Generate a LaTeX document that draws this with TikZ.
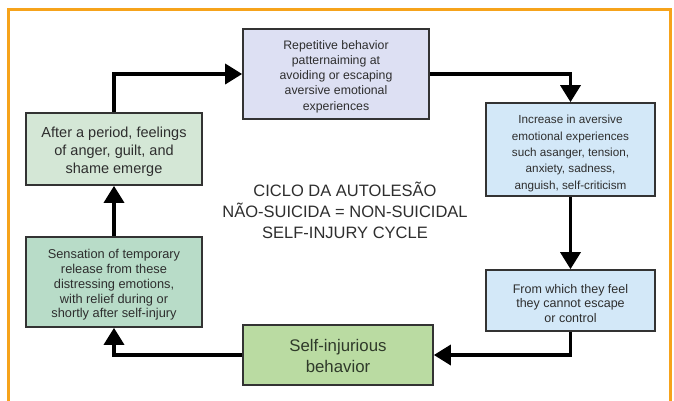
\documentclass[tikz,border=0pt]{standalone}
\usepackage{fontspec}
\setmainfont{Liberation Sans}
\usetikzlibrary{arrows.meta}
\definecolor{frameorange}{HTML}{F6A31B}
\definecolor{boxline}{HTML}{333333}
\definecolor{textgray}{HTML}{2E2E2E}
\definecolor{lavender}{HTML}{DDE0F3}
\definecolor{paleblue}{HTML}{D3E8F8}
\definecolor{palemint}{HTML}{D4E7D6}
\definecolor{mint}{HTML}{B8DCC8}
\definecolor{olivegreen}{HTML}{BADBA2}
\definecolor{darkgreentext}{HTML}{2F3A2A}
\tikzset{
  box/.style={draw=boxline, line width=1.7pt, inner sep=0pt},
  boxtext/.style={align=center, inner sep=0pt, text=textgray},
  flow/.style={line width=3.5pt, draw=black, -{Triangle[length=17pt,width=20pt]}},
  frame/.style={draw=frameorange, line width=3pt},
  title/.style={align=center, text=textgray, font=\fontsize{16.5}{21}\selectfont}
}
\begin{document}
\begin{tikzpicture}[x=1pt,y=-1pt]
\useasboundingbox (0,0) rectangle (674,400);
\fill[white] (0,0) rectangle (674,400);
\draw[frame] (8,402) -- (8,9) -- (670,9) -- (670,402);

% boxes
\node[box, fill=lavender, minimum width=186pt, minimum height=90pt] (top) at (336,74) {};
\node[box, fill=paleblue, minimum width=169pt, minimum height=93pt] (rt) at (570.5,149.5) {};
\node[box, fill=paleblue, minimum width=169pt, minimum height=61pt] (rb) at (570.5,300.5) {};
\node[box, fill=olivegreen, minimum width=190pt, minimum height=60pt] (bc) at (338,355) {};
\node[box, fill=mint, minimum width=176pt, minimum height=90pt] (lb) at (114,282) {};
\node[box, fill=palemint, minimum width=176pt, minimum height=72pt] (lt) at (114,149) {};

% texts
\node[boxtext, font=\fontsize{12.3}{15.2}\selectfont] (topt) at ([yshift=-2.5pt]top.center)
  {Repetitive behavior\\patternaiming at\\avoiding or escaping\\aversive emotional\\experiences};
\node[boxtext, font=\fontsize{11.7}{16.3}\selectfont] (rtt) at ([yshift=-4pt]rt.center)
  {Increase in aversive\\emotional experiences\\such asanger, tension,\\anxiety, sadness,\\anguish, self-criticism};
\node[boxtext, font=\fontsize{12.5}{14.5}\selectfont] (rbt) at ([yshift=-3pt]rb.center)
  {From which they feel\\they cannot escape\\or control};
\node[boxtext, font=\fontsize{16.8}{20.5}\selectfont, text=darkgreentext] (bct) at ([yshift=-1pt]bc.center)
  {Self-injurious\\behavior};
\node[boxtext, font=\fontsize{12.8}{14.8}\selectfont] (lbt) at ([yshift=-3pt]lb.center)
  {Sensation of temporary\\release from these\\distressing emotions,\\with relief during or\\shortly after self-injury};
\node[boxtext, font=\fontsize{14.5}{18}\selectfont] (ltt) at ([yshift=-3pt]lt.center)
  {After a period, feelings\\of anger, guilt, and\\shame emerge};

\node[title] (ttl) at (345,210)
  {CICLO DA AUTOLESÃO\\NÃO-SUICIDA = NON-SUICIDAL\\SELF-INJURY CYCLE};

% connectors
\draw[flow] (lt.north) |- (top.west);
\draw[flow] (top.east) -| (rt.north);
\draw[flow] (rt.south) -- (rb.north);
\draw[flow] (rb.south) |- (bc.east);
\draw[flow] (bc.west) -| (lb.south);
\draw[flow] (lb.north) -- (lt.south);
\end{tikzpicture}
\end{document}
